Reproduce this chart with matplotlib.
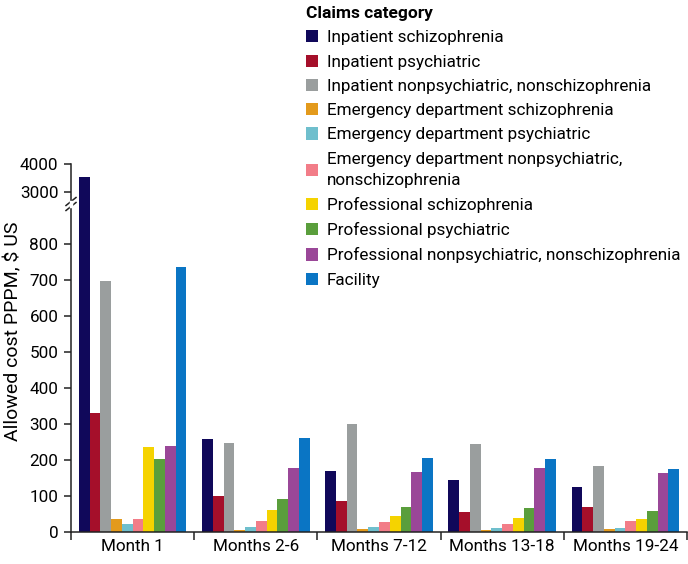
import matplotlib
matplotlib.use("Agg")
import matplotlib.pyplot as plt
from matplotlib.lines import Line2D
from matplotlib.patches import Patch
import numpy as np

plt.rcParams['font.family'] = ['Roboto', 'DejaVu Sans']

groups = ["Month 1", "Months 2-6", "Months 7-12", "Months 13-18", "Months 19-24"]
categories = [
    "Inpatient schizophrenia",
    "Inpatient psychiatric",
    "Inpatient nonpsychiatric, nonschizophrenia",
    "Emergency department schizophrenia",
    "Emergency department psychiatric",
    "Emergency department nonpsychiatric,\nnonschizophrenia",
    "Professional schizophrenia",
    "Professional psychiatric",
    "Professional nonpsychiatric, nonschizophrenia",
    "Facility",
]
colors = ["#10085A", "#A50F2A", "#9A9E9E", "#E39A1C", "#6FBFCD",
          "#F27D88", "#F5D300", "#5A9E3C", "#9A4798", "#0A75C4"]

inpatient_schizophrenia = [3545, 257, 170, 145, 126]
inpatient_psychiatric = [331, 100, 86, 56, 70]
inpatient_nonpsych = [697, 248, 300, 244, 184]
ed_schizophrenia = [36, 6, 8, 6, 8]
ed_psychiatric = [21, 13, 14, 10, 10]
ed_nonpsych = [36, 31, 27, 23, 31]
prof_schizophrenia = [237, 61, 44, 40, 36]
prof_psychiatric = [202, 91, 69, 66, 57]
prof_nonpsych = [240, 177, 168, 177, 163]
facility = [736, 261, 206, 202, 175]

series = [inpatient_schizophrenia, inpatient_psychiatric, inpatient_nonpsych,
          ed_schizophrenia, ed_psychiatric, ed_nonpsych,
          prof_schizophrenia, prof_psychiatric, prof_nonpsych, facility]

W, H = 688, 564
fig = plt.figure(figsize=(W / 100, H / 100), dpi=100)

left = 71 / W
right = 687 / W
y0 = 532
ybrk = 204
lower_top_val = (y0 - ybrk) / 0.36
ax = fig.add_axes([left, 1 - y0 / H, right - left, (y0 - ybrk) / H])
up_bottom_val = 3000 - (ybrk - 192) / 28 * 1000
axu = fig.add_axes([left, 1 - ybrk / H, right - left, (ybrk - 164) / H])

n = len(series)
bw = 0.0873
x = np.arange(len(groups)) + 0.5
for a in (ax, axu):
    for i, vals in enumerate(series):
        a.bar(x + (i - (n - 1) / 2) * bw, vals, width=bw, color=colors[i],
              linewidth=0, label=categories[i])
    a.set_xlim(0, len(groups))
    for s in ("top", "right"):
        a.spines[s].set_visible(False)
    a.spines["left"].set_color("#222222")
    a.spines["left"].set_linewidth(1.1)

fs = 12.3
ax.set_ylim(0, lower_top_val)
ax.set_yticks(np.arange(0, 801, 100))
ax.tick_params(axis="y", length=5, width=1.1, color="#222222", labelsize=fs, pad=4)
ax.set_xticks(np.arange(0, len(groups) + 1))
ax.set_xticklabels([])
ax.set_xticks(x, minor=True)
ax.set_xticklabels(groups, minor=True, fontsize=fs)
ax.tick_params(axis="x", which="major", length=6, width=1.1, color="#222222", direction="out")
ax.tick_params(axis="x", which="minor", length=0, pad=5)
ax.spines["bottom"].set_color("#222222")
ax.spines["bottom"].set_linewidth(1.1)

axu.set_ylim(up_bottom_val, 4000)
axu.set_yticks([3000, 4000])
axu.tick_params(axis="y", length=5, width=1.1, color="#222222", labelsize=fs, pad=4)
axu.spines["bottom"].set_visible(False)
axu.set_xticks([])

xb = 71 / W
for dy in (-2.5, 2.5):
    yc = 1 - (ybrk + dy) / H
    fig.add_artist(Line2D([xb - 5 / W, xb + 5 / W], [yc - 4 / H, yc + 4 / H],
                          color="#222222", lw=1.1))
fig.add_artist(Line2D([xb, xb], [1 - (ybrk + 1.8) / H, 1 - (ybrk - 1.8) / H],
                      color="white", lw=2.5))

fig.text(13 / W, 1 - 331 / H, "Allowed cost PPPM, $ US", rotation=90,
         ha="center", va="center", fontsize=14)

leg_fs = 12.3
handles = [Patch(facecolor=c, edgecolor="none") for c in colors]
leg = fig.legend(handles, categories, loc="upper left",
                 bbox_to_anchor=(306 / W, 1 - 6 / H), frameon=False,
                 fontsize=leg_fs, title="Claims category",
                 title_fontproperties={"weight": "bold", "size": 12.5},
                 handlelength=0.72, handleheight=0.72, handletextpad=0.5,
                 labelspacing=0.54, borderpad=0, borderaxespad=0,
                 alignment="left")
for t in leg.get_texts():
    t.set_linespacing(1.5)

fig.savefig("out.png", dpi=100)
